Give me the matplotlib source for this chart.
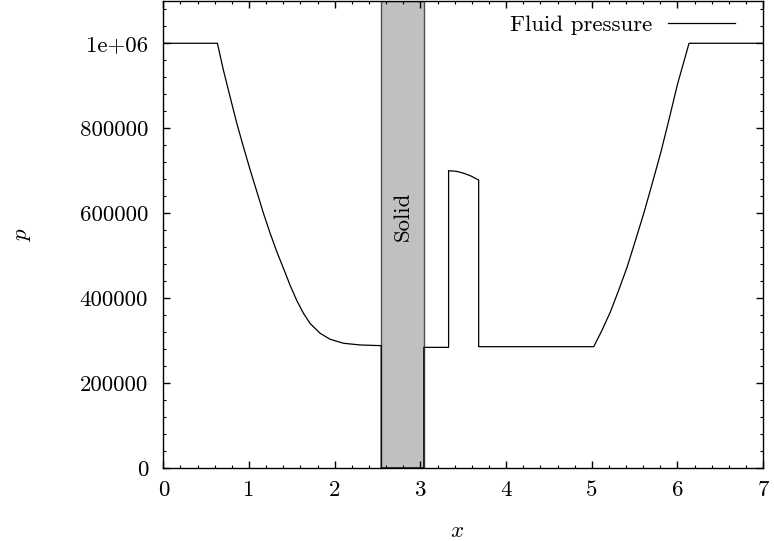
import matplotlib
matplotlib.use("Agg")
import matplotlib.pyplot as plt
import matplotlib.ticker as ticker
from matplotlib.patches import Rectangle

plt.rcParams['font.family'] = 'serif'
plt.rcParams['font.serif'] = ['cmr10']
plt.rcParams['mathtext.fontset'] = 'cm'
plt.rcParams['axes.unicode_minus'] = False

# fluid pressure profile
x = [0.0, 0.631, 0.701, 0.779, 0.857, 0.935, 1.013, 1.091, 1.168, 1.246, 1.325, 1.402,
     1.480, 1.558, 1.636, 1.714, 1.831, 1.947, 2.103, 2.298, 2.543,
     2.543, 3.040, 3.040, 3.329, 3.329, 3.42, 3.505, 3.59, 3.680, 3.680,
     5.023, 5.121, 5.218, 5.315, 5.414, 5.511, 5.607, 5.706, 5.803, 5.900, 5.998,
     6.135, 7.0]
p = [1e6, 1e6, 937000, 874000, 812000, 756000, 702000, 651000, 600000, 553000, 509000, 470000,
     430000, 394000, 364000, 340000, 317000, 303000, 293600, 289600, 288000,
     0, 0, 284000, 284000, 700000, 698500, 694000, 687500, 678000, 285600,
     285600, 324900, 368000, 419100, 474000, 536800, 599700, 670400, 741000, 819400, 901800,
     1e6, 1e6]

# solid region
solid_x0, solid_x1 = 2.543, 3.040

yticks = [0, 200000, 400000, 600000, 800000, 1000000]
ytick_labels = ['0', '200000', '400000', '600000', '800000', '1e+06']

fs = 16.5

fig = plt.figure(figsize=(7.74, 5.41), dpi=100)
ax = fig.add_axes([0.211, 0.135, 0.775, 0.8635])

ax.add_patch(Rectangle((solid_x0, 0), solid_x1 - solid_x0, 1.1e6,
                       facecolor='#c0c0c0', edgecolor='#505050', lw=1.0, zorder=1))
ax.text((solid_x0 + solid_x1) / 2, 593000, 'Solid', rotation=90,
        ha='center', va='center', fontsize=fs)

ax.plot(x, p, color='black', lw=0.9, label='Fluid pressure', zorder=2)

ax.set_xlim(0, 7)
ax.set_ylim(0, 1.1e6)
ax.set_yticks(yticks)
ax.set_yticklabels(ytick_labels)
ax.xaxis.set_major_locator(ticker.MultipleLocator(1))
ax.xaxis.set_minor_locator(ticker.MultipleLocator(0.2))
ax.yaxis.set_minor_locator(ticker.MultipleLocator(40000))

ax.tick_params(which='both', direction='in', top=True, right=True, labelsize=fs)
ax.tick_params(which='major', length=5, width=1)
ax.tick_params(which='minor', length=2.5, width=0.8)
ax.tick_params(axis='x', pad=9)
ax.tick_params(axis='y', pad=11)
for s in ax.spines.values():
    s.set_linewidth(1.0)

ax.set_xlabel('$x$', fontsize=fs)
ax.set_ylabel('$p$', fontsize=fs, rotation=90)
ax.xaxis.set_label_coords(0.49, -0.115)
ax.yaxis.set_label_coords(-0.218, 0.5)

ax.legend(loc='upper right', bbox_to_anchor=(0.968, 0.99), frameon=False,
          markerfirst=False, fontsize=fs, handlelength=2.9, handletextpad=0.7,
          borderaxespad=0)

fig.savefig('out.png', dpi=100)
